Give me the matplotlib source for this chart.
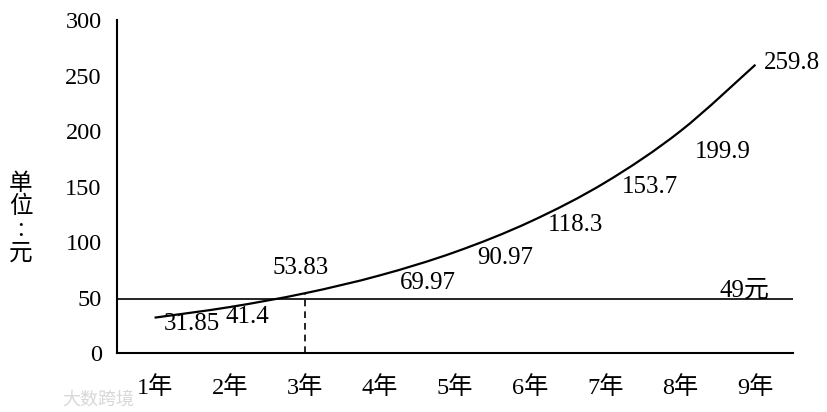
import matplotlib
matplotlib.use('Agg')
import matplotlib.pyplot as plt
from matplotlib.path import Path
from matplotlib.patches import PathPatch

plt.rcParams['font.family'] = ['Liberation Serif', 'Noto Sans CJK SC', 'DejaVu Sans']

# data
years = [1, 2, 3, 4, 5, 6, 7, 8, 9]
year_labels = ['1年', '2年', '3年', '4年', '5年', '6年', '7年', '8年', '9年']
values = [31.85, 41.4, 53.83, 69.97, 90.97, 118.3, 153.7, 199.9, 259.8]
value_text = ['31.85', '41.4', '53.83', '69.97', '90.97', '118.3', '153.7', '199.9', '259.8']
price_line = 49
cross_year = 3

# label positions (data coords)
label_x = [1.5, 2.24, 2.94, 4.64, 5.67, 6.6, 7.6, 8.57, 9.49]
label_y = [26, 32, 77, 63, 86, 115, 150, 181, 261]


def smooth_path(xs, ys):
    # catmull-rom style bezier through the points, drawn by matplotlib's Path
    verts = [(xs[0], ys[0])]
    codes = [Path.MOVETO]
    n = len(xs)
    for i in range(n - 1):
        x0, y0 = (xs[i - 1], ys[i - 1]) if i > 0 else (xs[i], ys[i])
        x3, y3 = (xs[i + 2], ys[i + 2]) if i + 2 < n else (xs[i + 1], ys[i + 1])
        x1, y1 = xs[i], ys[i]
        x2, y2 = xs[i + 1], ys[i + 1]
        c1 = (x1 + (x2 - x0) / 6, y1 + (y2 - y0) / 6)
        c2 = (x2 - (x3 - x1) / 6, y2 - (y3 - y1) / 6)
        verts += [c1, c2, (x2, y2)]
        codes += [Path.CURVE4] * 3
    return Path(verts, codes)


fig = plt.figure(figsize=(8.28, 4.12), dpi=100)
ax = fig.add_axes([0.1413, 0.1432, 0.8164, 0.808])

ax.add_patch(PathPatch(smooth_path(years, values), facecolor='none',
                       edgecolor='black', lw=1.6))
ax.axhline(price_line, color='black', lw=1.2)
ax.plot([cross_year, cross_year], [0, values[cross_year - 1]], color='black',
        lw=1.2, linestyle=(0, (4, 3)))

for x, y, t in zip(label_x, label_y, value_text):
    ax.text(x, y, t, ha='center', va='center', fontsize=18)
ax.text(8.86, 56, f'{price_line}元', ha='center', va='center', fontsize=18)

ax.set_xlim(0.5, 9.5)
ax.set_ylim(0, 300)
ax.set_yticks(range(0, 301, 50))
ax.set_xticks(years)
ax.set_xticklabels(year_labels)
ax.tick_params(axis='both', length=0, labelsize=17.5)
ax.tick_params(axis='x', pad=17)
ax.tick_params(axis='y', pad=11)
for s in ['top', 'right']:
    ax.spines[s].set_visible(False)
for s in ['left', 'bottom']:
    ax.spines[s].set_linewidth(1.5)

fig.text(0.025, 0.47, '单\n位\n:\n元', ha='center', va='center', fontsize=17,
         linespacing=1.0, family=['Noto Sans CJK SC', 'DejaVu Sans'])

# watermark
fig.text(0.075, 0.03, '大数跨境', color='#d8d8d8', fontsize=13, ha='left', va='center',
         family=['Noto Sans CJK SC'])

fig.savefig('out.png', dpi=100)
